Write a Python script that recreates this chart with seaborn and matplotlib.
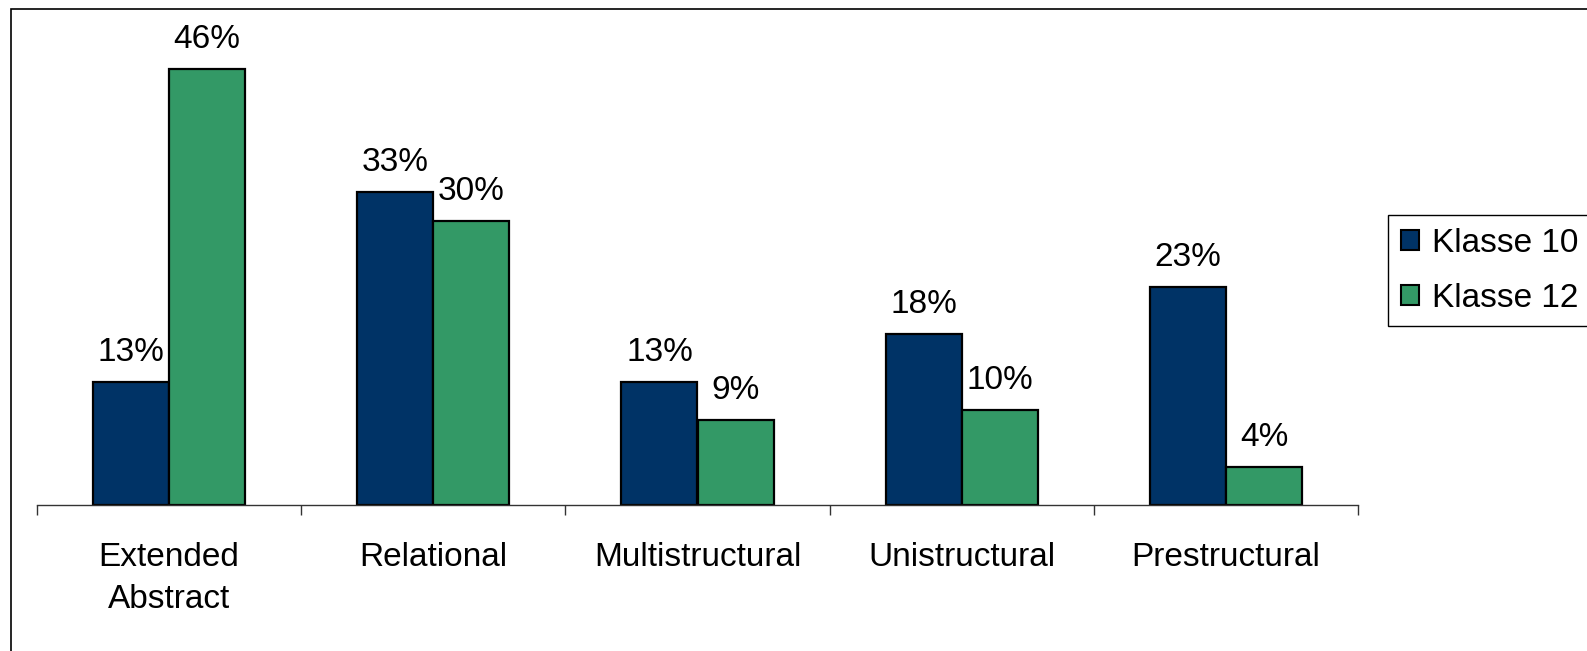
import numpy as np
import pandas as pd
import matplotlib
matplotlib.use("Agg")
import matplotlib.pyplot as plt
from matplotlib.patches import Patch, Rectangle
import seaborn as sns

# data
categories = ["Extended\nAbstract", "Relational", "Multistructural", "Unistructural", "Prestructural"]
klasse_10 = [13, 33, 13, 18, 23]
klasse_12 = [46, 30, 9, 10, 4]
series_names = ["Klasse 10", "Klasse 12"]
colors = ["#003366", "#339966"]

df = pd.DataFrame({
    "Kategorie": categories * 2,
    "Anteil": klasse_10 + klasse_12,
    "Klasse": [series_names[0]] * len(categories) + [series_names[1]] * len(categories),
})

sns.set_theme(style="white")
plt.rcParams["font.family"] = ["Liberation Sans", "DejaVu Sans"]
plt.rcParams["text.color"] = "black"
plt.rcParams["xtick.color"] = "black"
plt.rcParams["xtick.labelcolor"] = "black"

fig = plt.figure(figsize=(15.87, 6.51), dpi=100)
ax = fig.add_axes([37 / 1587, 1 - 505 / 651, (1358 - 37) / 1587, (505 - 31) / 651])

sns.barplot(data=df, x="Kategorie", y="Anteil", hue="Klasse", order=categories,
            hue_order=series_names, palette=colors, width=0.576, gap=0,
            edgecolor="black", linewidth=1.6, saturation=1, legend=False, ax=ax)

for cont in ax.containers:
    ax.bar_label(cont, fmt="%.0f%%", padding=10, fontsize=24, color="black")

ax.set_ylim(0, 50)
ax.set_xlim(-0.5, len(categories) - 0.5)
ax.set_xlabel("")
ax.set_ylabel("")
ax.set_yticks([])
ax.set_xticks(range(len(categories)))
ax.set_xticklabels(categories, fontsize=24, linespacing=1.45, color="black")
ax.set_xticks(np.arange(-0.5, len(categories), 1), minor=True)
ax.tick_params(axis="x", which="major", length=0, pad=27)
ax.tick_params(axis="x", which="minor", length=7, width=1, color="#333333", direction="out", bottom=True)
for side in ["top", "right", "left"]:
    ax.spines[side].set_visible(False)
ax.spines["bottom"].set_color("#333333")
ax.spines["bottom"].set_linewidth(1)
ax.set_facecolor("none")

handles = [Patch(facecolor=c, edgecolor="black", linewidth=1.5) for c in colors]
leg = fig.legend(handles, series_names, loc="upper left",
                 bbox_to_anchor=(1388 / 1587, 1 - 215 / 651), bbox_transform=fig.transFigure,
                 fontsize=24, frameon=True, fancybox=False, edgecolor="black", framealpha=1,
                 borderaxespad=0, borderpad=0.38, handlelength=0.55, handleheight=0.55,
                 handletextpad=0.38, labelspacing=0.72, labelcolor="black")
leg.get_frame().set_linewidth(1.0)

# outer chart border (runs off the right and bottom edges)
fig.patches.append(Rectangle((11 / 1587, -0.1), 2, 0.1 + 1 - 9 / 651, transform=fig.transFigure,
                             fill=False, edgecolor="black", linewidth=1.2))

fig.savefig("out.png", dpi=100)
